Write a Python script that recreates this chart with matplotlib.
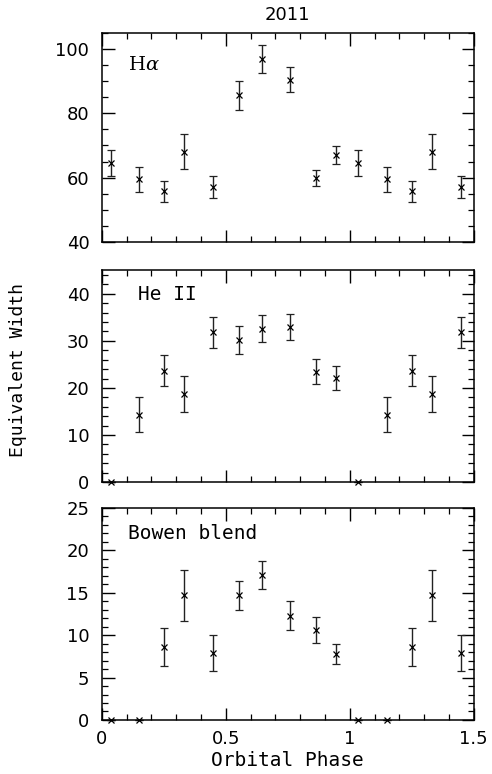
import numpy as np
import matplotlib
matplotlib.use("Agg")
import matplotlib.pyplot as plt
from matplotlib.ticker import MultipleLocator, FuncFormatter

# Orbital phases (first cycle); the first five are repeated one cycle later
phase = [0.035, 0.15, 0.25, 0.33, 0.45, 0.555, 0.645, 0.76, 0.865, 0.945]
n_repeat = 5

# H-alpha equivalent widths and errors
ha_ew = [64.5, 59.5, 55.8, 68.0, 57.1, 85.5, 96.7, 90.4, 60.0, 66.9]
ha_err = [4.0, 3.8, 3.2, 5.4, 3.5, 4.6, 4.3, 3.8, 2.5, 2.8]

# He II equivalent widths and errors
he_ew = [0.0, 14.3, 23.7, 18.8, 31.8, 30.2, 32.6, 32.9, 23.4, 22.1]
he_err = [0.0, 3.7, 3.2, 3.8, 3.3, 3.0, 2.8, 2.7, 2.65, 2.55]

# Bowen blend equivalent widths and errors
bw_ew = [0.0, 0.0, 8.6, 14.7, 7.9, 14.7, 17.1, 12.3, 10.6, 7.8]
bw_err = [0.0, 0.0, 2.2, 3.0, 2.1, 1.7, 1.65, 1.75, 1.55, 1.2]

labels = ["H$\\alpha$", "He II", "Bowen blend"]
ylims = [(40, 105), (0, 45), (0, 25)]
majors = [20, 10, 5]
minors = [5, 2, 1]
label_pos = [(0.07, 0.843), (0.097, 0.887), (0.07, 0.877)]

plt.rcParams['font.family'] = ['DejaVu Sans']
plt.rcParams['mathtext.fontset'] = 'dejavuserif'
MONO = ['DejaVu Sans Mono', 'DejaVu Sans']

fig = plt.figure(figsize=(4.92, 7.74), dpi=100)
left, width = 0.207, 0.756
rects = [(left, 0.687, width, 0.271),
         (left, 0.377, width, 0.274),
         (left, 0.0698, width, 0.274)]

ph = np.array(phase)
full_phase = np.concatenate([ph, ph[:n_repeat] + 1.0])

fmt = FuncFormatter(lambda v, p: "%g" % v)

datasets = [(ha_ew, ha_err), (he_ew, he_err), (bw_ew, bw_err)]
axes = []
for i, (rect, (ew, err)) in enumerate(zip(rects, datasets)):
    ax = fig.add_axes(rect)
    ew = np.array(ew)
    err = np.array(err)
    y = np.concatenate([ew, ew[:n_repeat]])
    e = np.concatenate([err, err[:n_repeat]])
    ax.errorbar(full_phase, y, yerr=e, fmt='x', color='black', ecolor='#222222',
                markersize=4, markeredgewidth=0.9, elinewidth=1.0,
                capsize=2.6, capthick=1.0, clip_on=False)
    ax.set_xlim(0, 1.5)
    ax.set_ylim(*ylims[i])
    ax.xaxis.set_major_locator(MultipleLocator(0.5))
    ax.xaxis.set_minor_locator(MultipleLocator(0.1))
    ax.yaxis.set_major_locator(MultipleLocator(majors[i]))
    ax.yaxis.set_minor_locator(MultipleLocator(minors[i]))
    ax.xaxis.set_major_formatter(fmt)
    ax.yaxis.set_major_formatter(fmt)
    ax.tick_params(which='both', direction='in', top=True, right=True, labelsize=13)
    ax.tick_params(axis='y', which='major', pad=9)
    ax.tick_params(axis='x', which='major', pad=7)
    ax.tick_params(which='major', length=9, width=1.0)
    ax.tick_params(which='minor', length=4.5, width=0.9)
    for s in ax.spines.values():
        s.set_linewidth(1.1)
    if i < 2:
        ax.tick_params(labelbottom=False)
    if i == 0:
        ax.text(label_pos[i][0], label_pos[i][1], labels[i], transform=ax.transAxes,
                fontsize=14, va='center', ha='left', family='DejaVu Serif')
    else:
        ax.text(label_pos[i][0], label_pos[i][1], labels[i], transform=ax.transAxes,
                fontsize=14, va='center', ha='left', family=MONO)
    axes.append(ax)

fig.text(0.585, 0.980, "2011", fontsize=13, ha='center', va='center')
fig.text(0.585, 0.018, "Orbital Phase", fontsize=14, ha='center', va='center', family=MONO)
fig.text(0.037, 0.522, "Equivalent Width", rotation=90, fontsize=13,
         va='center', ha='center', family=MONO)

fig.savefig("out.png", dpi=100)
